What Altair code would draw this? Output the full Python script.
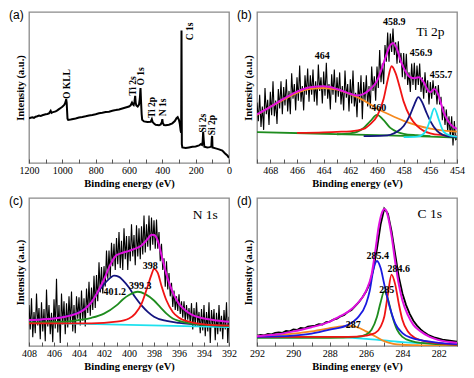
import altair as alt
import pandas as pd

# ---------------- panel (a): survey ----------------
a_E = [1200, 1190, 1180, 1170, 1160, 1150, 1140, 1130, 1120, 1110, 1100, 1090, 1080, 1070, 1065, 1060,
       1050, 1040, 1030, 1020, 1010, 1000, 990, 985, 980, 977, 974, 971, 969, 965, 950, 935, 920, 900,
       880, 860, 840, 820, 800, 780, 760, 740, 720, 700, 680, 660, 640, 620, 600, 590, 582, 578, 572,
       567, 563, 560, 556, 548, 540, 535, 531, 528, 524, 521, 510, 490, 470, 463, 458, 450, 440, 420,
       410, 403, 400, 397, 390, 380, 360, 340, 325, 315, 308, 300, 295, 290, 287, 285, 283, 280, 260,
       240, 220, 200, 180, 170, 162, 158, 155, 152, 148, 130, 115, 106, 103, 101, 99, 80, 60, 40, 25,
       10, 0]
a_I = [46, 46.5, 47, 46.3, 47.5, 48, 48.7, 48.2, 49, 49.5, 50, 50.3, 51, 53.5, 51.5, 52,
       52.5, 53, 54, 55.3, 56.5, 57.7, 59.3, 60.7, 63, 65.5, 62, 52, 45.5, 44.3, 44.7, 45.2, 45.7, 46.7,
       47.3, 48, 48.8, 49.3, 50, 51, 51.5, 52.3, 52.7, 53.7, 54.3, 55, 56, 57, 58, 59.3, 62, 60.5, 59.5,
       63, 69, 62, 59, 58, 60, 66, 77, 64, 50, 44.3, 42.7, 42, 42.3, 45, 42, 40.5, 39.3, 38.7,
       39.5, 42, 45, 41, 39, 38.7, 39.3, 40.7, 43, 46, 47, 44, 40, 33, 31, 136, 19.3, 16, 15.3,
       16, 16.7, 17, 18, 19.3, 18.5, 22, 32, 24, 16.7, 16, 16.3, 17, 26, 27.7, 16, 15, 14, 12.7, 10,
       7.7, 5.3]
a_ann_t = ["O KLL", "Ti 2s", "O 1s", "Ti 2p", "N 1s", "C 1s", "Si 2s", "Si 2p"]
a_ann_E = [974, 579, 527, 461, 396, 232, 154, 100]
a_ann_I = [81, 79, 89, 57, 57, 135, 41, 39]

# ---------------- panel (b): Ti 2p ----------------
b_raw_E = [round(469 - 0.1 * i, 1) for i in range(151)]
b_raw_I = [62, 43, 70, 37, 58, 34, 77, 50, 65, 39,
           73, 49, 84, 48, 64, 40, 76, 56, 84, 50,
           78, 59, 86, 53, 74, 50, 92, 66, 81, 54,
           88, 64, 100, 63, 79, 54, 90, 70, 97, 63,
           90, 70, 96, 63, 84, 59, 101, 74, 88, 61,
           94, 69, 103, 66, 81, 55, 91, 70, 96, 62,
           88, 68, 93, 60, 79, 54, 95, 67, 81, 53,
           86, 61, 95, 58, 72, 47, 83, 62, 90, 45,
           83, 64, 90, 58, 79, 56, 99, 74, 89, 64,
           99, 77, 116, 83, 102, 81, 121, 104, 134, 104,
           133, 114, 138, 111, 124, 102, 125, 103, 113, 88,
           113, 86, 112, 80, 93, 73, 102, 80, 103, 75,
           100, 80, 102, 73, 88, 66, 93, 72, 85, 60,
           83, 66, 85, 70, 79, 60, 80, 60, 68, 44,
           58, 39, 55, 33, 48, 26, 48, 18, 43, 24,
           25]
b_base_E = [469, 464, 460, 456, 454]
b_base_I = [31.7, 30, 28.7, 27, 26]
b_orange_E = [469, 468, 467, 466, 465, 464, 463, 462, 461, 460, 459, 458, 457, 456, 455, 454]
b_orange_I = [49.3, 57.7, 65, 72, 76, 77, 75.3, 70.7, 64.3, 56, 49.3, 43.3, 38.7, 35.3, 33.3, 32.3]
b_green_E = [463, 462, 461.5, 461, 460.5, 460, 459.5, 459, 458.5, 458, 457, 456]
b_green_I = [29.5, 30.5, 32, 36, 43, 49.3, 44, 36, 32, 30, 28.5, 27.5]
b_red_E = [466, 464, 463, 462, 461, 460.5, 460, 459.5, 459.2, 458.9, 458.6, 458.3, 458, 457.5, 457, 456.5, 456, 455, 454]
b_red_I = [31, 31.5, 32, 32.5, 35, 40, 48, 66, 85, 99.3, 92, 78, 63, 47, 38, 33, 30.5, 28.5, 27.5]
b_navy_E = [461, 459.5, 459, 458.5, 458, 457.5, 457.2, 456.9, 456.6, 456.3, 456, 455.5, 455, 454.5, 454]
b_navy_I = [27.5, 28, 29, 32, 38, 50, 60, 67.7, 62, 52, 43, 33, 28.5, 27, 26.5]
b_cyan_E = [458, 457, 456.5, 456.2, 456, 455.7, 455.4, 455.2, 455, 454.5, 454]
b_cyan_I = [26.5, 27, 30, 37, 45, 56, 46, 38, 32, 28, 27]
b_mag_E = [469, 468, 467, 466, 465, 464, 463, 462, 461.5, 461, 460.5, 460, 459.5, 459, 458.8, 458.5,
           458.2, 458, 457.5, 457.2, 456.9, 456.5, 456.2, 456, 455.7, 455.4, 455, 454.5, 454]
b_mag_I = [50, 57.7, 66, 73.3, 77.7, 78.7, 76, 71, 69.3, 71, 76, 84.3, 102.7, 121, 123.3, 117,
           104, 97.7, 88, 87, 88, 83, 75, 72.7, 76, 70, 52, 40, 35]
b_ann_t = ["464", "460", "458.9", "456.9", "455.7"]
b_ann_E = [464.1, 459.87, 458.7, 456.7, 455.2]
b_ann_I = [110, 56, 144.3, 112.7, 90]

# ---------------- panel (c): N 1s ----------------
c_raw_E = [round(408 - 0.1 * i, 1) for i in range(161)]
c_raw_I = [42, 17, 49, 9, 35, 13, 54, 21, 39, 7,
           45, 15, 38, 5, 58, 20, 42, 12, 34, 4,
           48, 18, 69, 14, 42, 3, 54, 22, 46, 12,
           44, 19, 51, 23, 56, 15, 42, 13, 51, 28,
           50, 21, 57, 26, 49, 20, 59, 34, 66, 31,
           60, 37, 72, 39, 73, 46, 86, 55, 81, 54,
           82, 61, 98, 69, 98, 71, 106, 82, 105, 78,
           111, 84, 117, 80, 108, 78, 121, 89, 113, 78,
           113, 87, 125, 92, 114, 83, 124, 92, 121, 89,
           123, 94, 134, 96, 125, 102, 134, 98, 132, 104,
           129, 100, 130, 100, 117, 87, 105, 78, 90, 61,
           87, 58, 75, 51, 65, 40, 57, 37, 51, 36,
           53, 33, 46, 29, 46, 25, 42, 27, 39, 23,
           44, 17, 39, 20, 45, 21, 35, 13, 38, 16,
           42, 10, 35, 15, 45, 3, 37, 20, 38, 6,
           34, 12, 42, 15, 31, 7, 37, 17, 45, 3,
           30]
c_mag_E = [408, 407, 406, 405, 404, 403.5, 403, 402.5, 402, 401.5, 401, 400.5, 400, 399.5, 399, 398.5,
           398.2, 398, 397.7, 397.4, 397, 396.5, 396, 395.5, 395, 394, 393, 392]
c_mag_I = [26.7, 27.3, 28.3, 30.3, 34.3, 38.3, 45, 55.7, 68.3, 83.3, 93.3, 95.7, 97.7, 100, 103.3, 110,
           114.3, 114, 108.3, 93.3, 73.3, 55, 43.3, 36.7, 32.3, 28.3, 26.3, 25]
c_navy_E = [408, 406, 405, 404, 403, 402.5, 402, 401.5, 401.2, 400.8, 400.5, 400, 399.5, 399, 398.5, 398, 397, 396, 394, 392]
c_navy_I = [26.7, 28.3, 30.7, 35, 45, 55, 63.3, 70, 72.3, 71, 67.7, 60, 50, 41.7, 35, 30, 25.7, 23.7, 21.7, 21]
c_green_E = [408, 405, 404, 403, 402, 401, 400.5, 400, 399.3, 398.7, 398, 397.5, 397, 396.5, 396, 395, 394, 392]
c_green_I = [24, 25, 26.7, 29, 33.3, 41.7, 47.7, 52.3, 55.7, 53.3, 46.7, 40, 33.3, 28.3, 25.7, 23, 21.7, 20.7]
c_red_E = [408, 403, 401, 400, 399.5, 399, 398.5, 398.2, 398, 397.7, 397.4, 397, 396.5, 396, 395, 394, 392]
c_red_I = [23.3, 23.3, 25, 28.3, 33.3, 43.3, 61.7, 73.3, 79.3, 75, 61.7, 46.7, 35, 29, 24.3, 22.3, 21]
c_cyan_E = [408, 392]
c_cyan_I = [24, 19.3]
c_ann_t = ["401.2", "399.3", "398"]
c_ann_E = [401.15, 399.1, 398.3]
c_ann_I = [55.7, 61.7, 81.7]

# ---------------- panel (d): C 1s ----------------
d_raw_E = [292.0, 291.8, 291.6, 291.4, 291.2, 291.0, 290.8, 290.6, 290.4, 290.2, 290.0, 289.8, 289.6,
           289.4, 289.2, 289.0, 288.8, 288.6, 288.4, 288.2, 288.0, 287.8, 287.6, 287.4, 287.2, 287.0,
           286.8, 286.6, 286.4, 286.2, 286.0, 285.8, 285.6, 285.4, 285.2, 285.0, 284.8, 284.6, 284.4,
           284.2, 284.0, 283.8, 283.6, 283.4, 283.2, 283.0, 282.8, 282.6, 282.4, 282.2, 282.0, 281.8,
           281.6, 281.4, 281.2, 281.0]
d_raw_I = [10.5, 11.5, 11, 12.5, 12, 13.5, 14, 13.5, 15.5, 15, 17, 16.5, 18.5,
           18, 20, 20.5, 21, 22.5, 22, 24.5, 25, 27, 28, 30.5, 32, 35,
           37, 41, 45, 50, 56, 64, 79, 100, 125, 141, 136, 118, 94,
           71, 54, 42, 33, 26, 21, 17, 14, 11.5, 10, 8.5, 7.5, 6.5,
           6, 5.5, 5, 4.5]
d_mag_E = [292, 291, 290, 289, 288.5, 288, 287.5, 287, 286.5, 286, 285.7, 285.5, 285.3, 285.1, 285,
           284.9, 284.8, 284.6, 284.4, 284.2, 284, 283.7, 283.4, 283, 282.5, 282, 281]
d_mag_I = [10, 11.7, 15, 19.3, 21.7, 25, 30, 35, 43.3, 56.7, 73.3, 96.7, 123.3, 138.3, 140.7,
           139.3, 133.3, 113.3, 86.7, 63.3, 46.7, 31.7, 21.7, 15, 9.3, 6, 3.3]
d_cyan_E = [292, 288, 286, 285, 284, 283, 281]
d_cyan_I = [10, 9.3, 7.3, 5.7, 4, 3, 2]
d_orange_E = [292, 290, 289, 288, 287.5, 287, 286.5, 286, 285.5, 285, 284.5, 284, 283, 281]
d_orange_I = [10, 12.7, 15, 18.3, 20, 20.7, 19.3, 15, 10, 5, 2.3, 1.3, 0.7, 0.3]
d_green_E = [292, 288, 286.5, 286, 285.7, 285.4, 285.2, 285, 284.8, 284.6, 284.3, 284, 283.5, 283, 281]
d_green_I = [8.3, 8.3, 9.3, 11.7, 16.7, 30, 45, 56, 48.3, 33.3, 16.7, 9.3, 5, 3.3, 1.3]
d_red_E = [292, 287, 286, 285.5, 285.2, 285, 284.8, 284.6, 284.4, 284.2, 284, 283.7, 283.3, 283, 282, 281]
d_red_I = [9.3, 9.3, 10.7, 13.3, 20, 30, 53.3, 73.3, 63.3, 43.3, 26.7, 15, 8.3, 6, 2.7, 1.3]
d_blue_E = [292, 290, 289, 288, 287, 286.5, 286, 285.8, 285.6, 285.4, 285.2, 285, 284.7, 284.4, 284, 283.5, 283, 282, 281]
d_blue_I = [9.3, 10.7, 12.7, 16.7, 21.7, 28.3, 43.3, 56.7, 78.3, 87.3, 80, 63.3, 40, 23.3, 13.3, 8.3, 6, 3.3, 2]
d_ann_t = ["285.4", "284.6", "285", "287"]
d_ann_E = [285.36, 284.2, 284.87, 286.7]
d_ann_I = [92.3, 79, 57.3, 21.7]

# big element labels
b_el = ("Ti 2p", 456.0, 134.3)
c_el = ("N 1s", 393.9, 135)
d_el = ("C 1s", 282.5, 135.7)

# ---------------- styling ----------------
SER_DOMAIN = ["red", "navy", "green", "orange", "cyan", "blue", "base"]
SER_RANGE = ["#f01414", "#14147f", "#1e8c1e", "#f5891e", "#1ee1ee", "#1a1ae0", "#1e8c1e"]
MAG = "#e010e0"
SERIF = "Liberation Serif"
W = 200


def make_x(domain, values, step):
    return alt.X("E:Q",
                 scale=alt.Scale(domain=domain, nice=False, zero=False),
                 axis=alt.Axis(title="Binding energy (eV)", values=values, format="d",
                               labelExpr=f"datum.value % {step} == 0 ? datum.label : ''",
                               labelFlush=False, labelOverlap=False, offset=-4, tickSize=4,
                               domain=False, grid=False, labelPadding=2, titlePadding=3))


def make_y(top):
    return alt.Y("I:Q", scale=alt.Scale(domain=[0, top], nice=False, zero=False),
                 axis=alt.Axis(title="Intensity (a.u.)", labels=False, ticks=False, domain=False,
                               grid=False, titlePadding=4))


def fits_df(curves):
    rows = []
    for name, (E, I) in curves.items():
        for e, i in zip(E, I):
            rows.append({"E": e, "I": i, "s": name})
    return pd.DataFrame(rows)


def panel(label, X, Y, H, raw, raw_w, fits=None, mag=None, ann=None, ann_angle=0, el=None):
    layers = []
    layers.append(alt.Chart(pd.DataFrame({"E": raw[0], "I": raw[1]}))
                  .mark_line(color="black", strokeWidth=raw_w, clip=True)
                  .encode(x=X, y=Y))
    if fits is not None:
        layers.append(alt.Chart(fits_df(fits))
                      .mark_line(strokeWidth=1.8, interpolate="monotone", clip=True)
                      .encode(x=X, y=Y,
                              color=alt.Color("s:N", scale=alt.Scale(domain=SER_DOMAIN, range=SER_RANGE),
                                              legend=None)))
    if mag is not None:
        layers.append(alt.Chart(pd.DataFrame({"E": mag[0], "I": mag[1]}))
                      .mark_line(color=MAG, strokeWidth=2, interpolate="monotone", clip=True)
                      .encode(x=X, y=Y))
    if ann is not None:
        layers.append(alt.Chart(pd.DataFrame({"t": ann[0], "E": ann[1], "I": ann[2]}))
                      .mark_text(font=SERIF, fontWeight="bold", fontSize=10 if ann_angle == 0 else 9.5,
                                 angle=ann_angle, color="black")
                      .encode(x=X, y=Y, text="t:N"))
    if el is not None:
        layers.append(alt.Chart(pd.DataFrame({"t": [el[0]], "E": [el[1]], "I": [el[2]]}))
                      .mark_text(font=SERIF, fontSize=13.5, color="black")
                      .encode(x=X, y=Y, text="t:N"))
    layers.append(alt.Chart(pd.DataFrame({"t": [label]}))
                  .mark_text(font="Liberation Sans", fontSize=12, align="left", baseline="top", color="black")
                  .encode(x=alt.value(-20), y=alt.value(-2), text="t:N"))
    return alt.layer(*layers).properties(width=W, height=H)


pa = panel("(a)", make_x([1200, 0], list(range(0, 1201, 100)), 200), make_y(155), 151,
           (a_E, a_I), 2.0, ann=(a_ann_t, a_ann_E, a_ann_I), ann_angle=270)
pb = panel("(b)", make_x([469, 454], list(range(454, 470)), 2), make_y(155), 151,
           (b_raw_E, b_raw_I), 1.1,
           fits={"base": (b_base_E, b_base_I), "orange": (b_orange_E, b_orange_I),
                 "green": (b_green_E, b_green_I), "red": (b_red_E, b_red_I),
                 "navy": (b_navy_E, b_navy_I), "cyan": (b_cyan_E, b_cyan_I)},
           mag=(b_mag_E, b_mag_I), ann=(b_ann_t, b_ann_E, b_ann_I), el=b_el)
pc = panel("(c)", make_x([408, 392], list(range(392, 409)), 2), make_y(152), 148,
           (c_raw_E, c_raw_I), 1.1,
           fits={"cyan": (c_cyan_E, c_cyan_I), "navy": (c_navy_E, c_navy_I),
                 "green": (c_green_E, c_green_I), "red": (c_red_E, c_red_I)},
           mag=(c_mag_E, c_mag_I), ann=(c_ann_t, c_ann_E, c_ann_I), el=c_el)
pd_ = panel("(d)", make_x([292, 281], list(range(281, 293)), 2), make_y(152), 148,
            (d_raw_E, d_raw_I), 1.8,
            fits={"cyan": (d_cyan_E, d_cyan_I), "orange": (d_orange_E, d_orange_I),
                  "green": (d_green_E, d_green_I), "red": (d_red_E, d_red_I),
                  "blue": (d_blue_E, d_blue_I)},
            mag=(d_mag_E, d_mag_I), ann=(d_ann_t, d_ann_E, d_ann_I), el=d_el)

chart = alt.concat(pa, pb, pc, pd_, columns=2, spacing={"row": 35, "column": 28}, bounds="flush")
chart = chart.properties(padding={"left": 0, "top": 0, "right": 0, "bottom": 0}).configure_view(
    stroke="#8a8a8a", strokeWidth=1.3
).configure_axis(
    labelFont=SERIF, labelFontSize=10, labelColor="black",
    titleFont=SERIF, titleFontSize=10.5, titleFontWeight="bold", titleColor="black",
    tickColor="#555555", tickWidth=1
)

chart.save("out.html", embed_options={"renderer": "svg", "actions": False})
